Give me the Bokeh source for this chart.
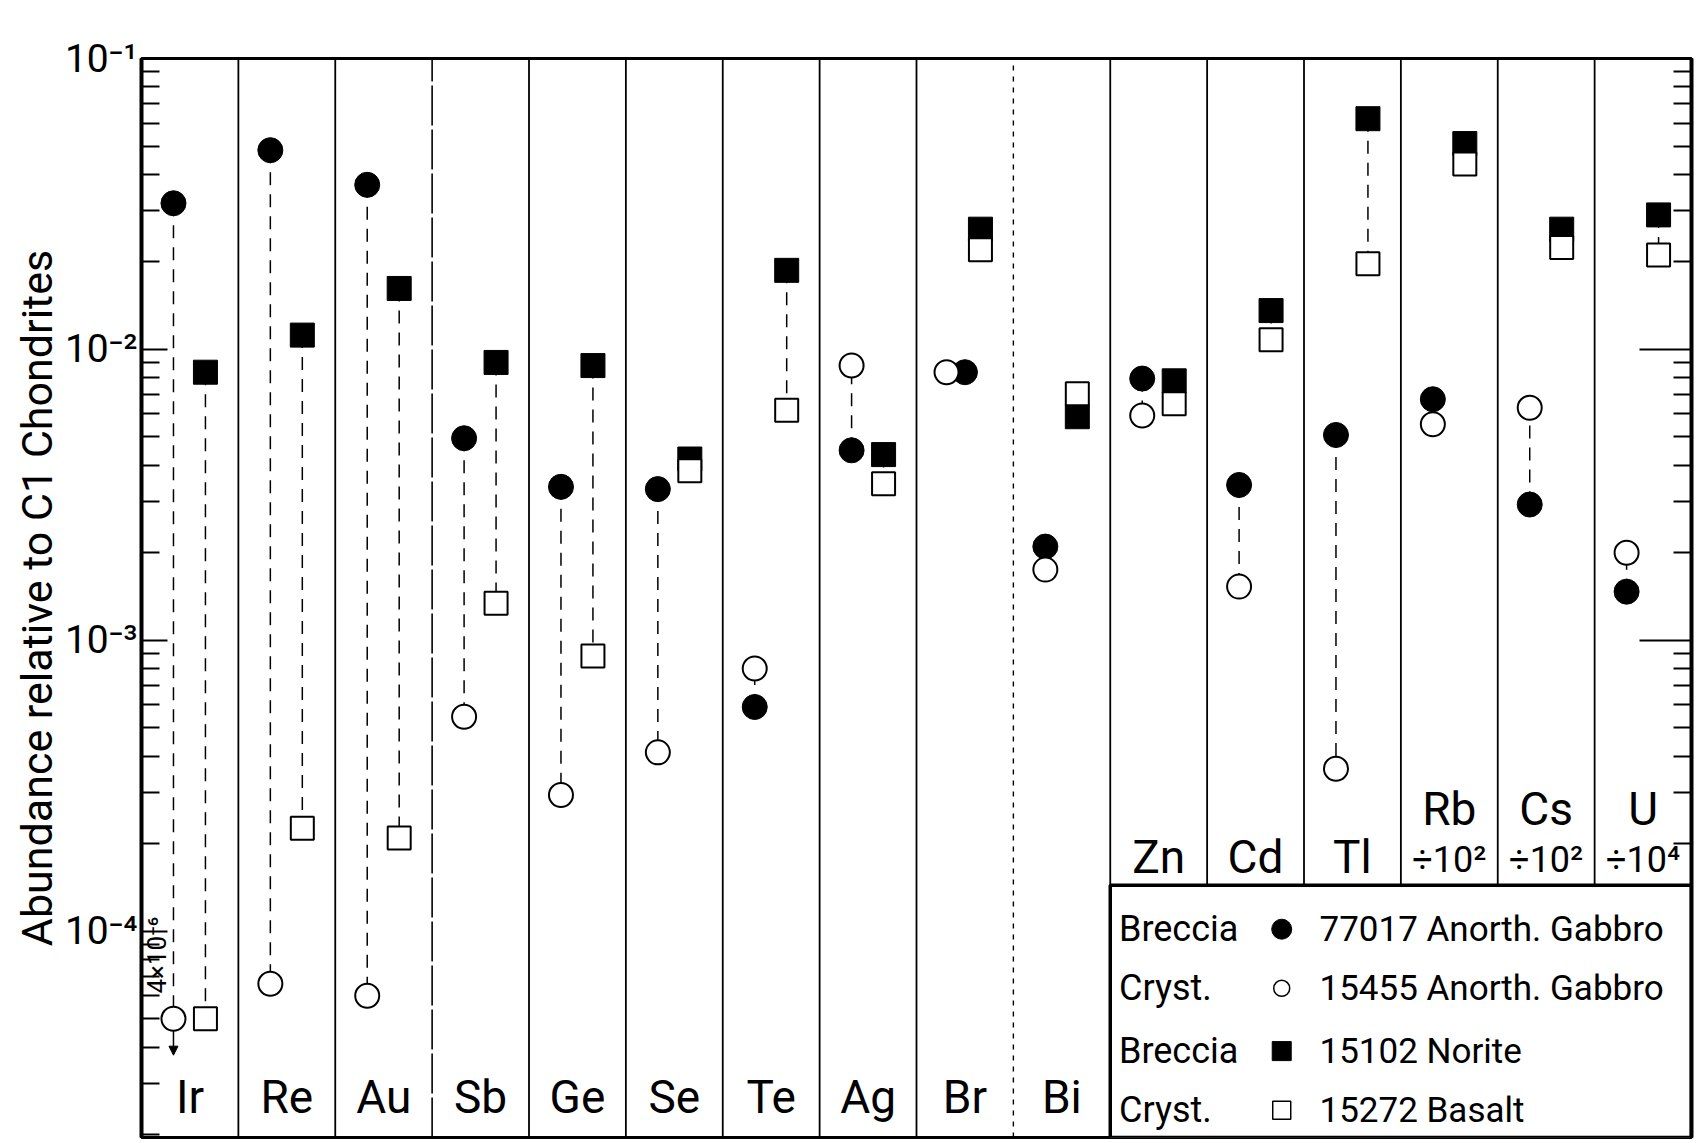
import math
from bokeh.plotting import figure
from bokeh.models import Range1d, LogAxis, FixedTicker, Label, Arrow, NormalHead, CustomJSTickFormatter
from bokeh.core.properties import value
from bokeh.embed import file_html
from bokeh.resources import INLINE

# ---------------- data ----------------
elements = ["Ir", "Re", "Au", "Sb", "Ge", "Se", "Te", "Ag", "Br", "Bi",
            "Zn", "Cd", "Tl", "Rb", "Cs", "U"]
scale_notes = ["", "", "", "", "", "", "", "", "", "",
               "", "", "", "÷10²", "÷10²", "÷10⁴"]
# Breccia 77017 Anorth. Gabbro (filled circles)
breccia_77017 = [0.0318, 0.0484, 0.0368, 0.00495, 0.00337, 0.00331, 0.00059, 0.0045,
                 0.00835, 0.0021, 0.00794, 0.00342, 0.00508, 0.00674, 0.00293, 0.00147]
# Cryst. 15455 Anorth. Gabbro (open circles)
cryst_15455 = [5.0e-5, 6.6e-5, 6.0e-5, 5.46e-4, 2.94e-4, 4.12e-4, 8.0e-4, 8.8e-3,
               8.35e-3, 1.75e-3, 5.93e-3, 1.53e-3, 3.62e-4, 5.53e-3, 6.3e-3, 2.0e-3]
# Breccia 15102 Norite (filled squares)
breccia_15102 = [0.00835, 0.0112, 0.0162, 0.00902, 0.0088, 0.0042, 0.0187, 0.00435,
                 0.0259, 0.00587, 0.0078, 0.0136, 0.0621, 0.051, 0.0259, 0.029]
# Cryst. 15272 Basalt (open squares)
cryst_15272 = [5.0e-5, 2.26e-4, 2.09e-4, 1.34e-3, 8.83e-4, 3.83e-3, 6.18e-3, 3.45e-3,
               0.022, 0.00704, 0.00651, 0.0108, 0.0197, 0.0434, 0.0224, 0.0211]

legend_kinds = ["Breccia", "Cryst.", "Breccia", "Cryst."]
legend_names = ["77017 Anorth. Gabbro", "15455 Anorth. Gabbro", "15102 Norite", "15272 Basalt"]

major_ticks = [1e-4, 1e-3, 1e-2, 1e-1]
tick_labels = ["10⁻⁴", "10⁻³", "10⁻²", "10⁻¹"]
minor_ticks = [m * 10.0 ** e for e in range(-5, -1) for m in range(2, 10)]

ir_limit_text = "4×10⁻⁶"
y_title = "Abundance relative to C1 Chondrites"

# ---------------- styling / layout ----------------
FONT = "Roboto"
YMIN, YMAX = 10 ** -4.709, 0.1
N = len(elements)
LEG_TOP = 10 ** -3.842


def ly(l):
    return 10 ** l


p = figure(width=1703, height=1143, x_range=Range1d(0, N), y_range=Range1d(YMIN, YMAX),
           y_axis_type="log", x_axis_location=None, output_backend="svg",
           toolbar_location=None, min_border_left=141, min_border_right=12,
           min_border_top=58, min_border_bottom=6)
p.grid.visible = False
p.outline_line_color = "black"
p.outline_line_width = 3
p.background_fill_color = "white"
p.border_fill_color = "white"

yax = p.yaxis[0]
yax.ticker = FixedTicker(ticks=major_ticks, minor_ticks=minor_ticks)
yax.major_label_overrides = dict(zip(major_ticks, tick_labels))
yax.major_tick_in = 26
yax.major_tick_out = 0
yax.minor_tick_in = 18
yax.minor_tick_out = 0
yax.axis_line_width = 4
yax.major_tick_line_width = 2
yax.minor_tick_line_width = 2
yax.major_label_standoff = 4
yax.major_label_text_font = FONT
yax.major_label_text_font_size = "39px"
yax.major_label_text_color = "black"
yax.axis_label = y_title
yax.axis_label_text_font = FONT
yax.axis_label_text_font_size = "43px"
yax.axis_label_text_font_style = "normal"
yax.axis_label_text_color = "black"
yax.axis_label_standoff = 0

# right-hand ticks stop where the legend box begins
r_major = [t for t in major_ticks if t > LEG_TOP]
r_minor = [t for t in minor_ticks if t > LEG_TOP]
rax = LogAxis(ticker=FixedTicker(ticks=r_major, minor_ticks=r_minor),
              formatter=CustomJSTickFormatter(code="return ''"),
              major_tick_in=52, major_tick_out=0, minor_tick_in=18, minor_tick_out=0,
              axis_line_width=4, major_tick_line_width=2, minor_tick_line_width=2,
              major_label_standoff=0)
p.add_layout(rax, "right")

# column separators
full_b = [b for b in range(1, 11) if b not in (3, 9)]
p.segment(x0=full_b, x1=full_b, y0=[YMIN] * len(full_b), y1=[YMAX] * len(full_b),
          line_color="black", line_width=1.8)
p.segment(x0=[3], x1=[3], y0=[YMIN], y1=[YMAX], line_color="black", line_width=1.6,
          line_dash="40 4")
p.segment(x0=[9], x1=[9], y0=[YMIN], y1=[YMAX], line_color="black", line_width=1.4,
          line_dash="5 6")
part_b = list(range(11, N))
p.segment(x0=part_b, x1=part_b, y0=[LEG_TOP] * len(part_b), y1=[YMAX] * len(part_b),
          line_color="black", line_width=1.8)

# legend box
p.quad(left=[10], right=[N], bottom=[YMIN], top=[LEG_TOP], fill_color="white",
       line_color="black", line_width=3.5)

# x positions
cx = [i + 0.33 for i in range(N)]
sx = [i + 0.66 for i in range(N)]
cx_open = list(cx)
cx_fill = list(cx)
br = elements.index("Br")
cx_open[br] = br + 0.31
cx_fill[br] = br + 0.50

# dashed connectors
p.segment(x0=cx_fill, y0=breccia_77017, x1=cx_open, y1=cryst_15455,
          line_color="black", line_width=1.5, line_dash="13 9")
p.segment(x0=sx, y0=breccia_15102, x1=sx, y1=cryst_15272,
          line_color="black", line_width=1.5, line_dash="13 9")

# Ir upper-limit arrow
ir = elements.index("Ir")
p.add_layout(Arrow(x_start=cx_open[ir], y_start=cryst_15455[ir] * 10 ** -0.04,
                   x_end=cx_open[ir], y_end=cryst_15455[ir] * 10 ** -0.125,
                   line_width=1.5, end=NormalHead(size=9, fill_color="black", line_color="black")))

# markers
p.scatter(cx_fill, breccia_77017, marker="circle", size=25, fill_color="black", line_color="black")
p.scatter(sx, breccia_15102, marker="square", size=24, fill_color="black", line_color="black")
p.scatter(cx_open, cryst_15455, marker="circle", size=24, fill_color="white",
          line_color="black", line_width=2)
p.scatter(sx, cryst_15272, marker="square", size=23, fill_color="white",
          line_color="black", line_width=2)

# element labels
centers = [i + 0.5 for i in range(N)]
lab_y = [ly(-4.570) if i < 10 else (ly(-3.746) if scale_notes[i] == "" else ly(-3.581))
         for i in range(N)]
p.text(x=centers, y=lab_y, text=elements, text_align="center", text_baseline="middle",
       text_font=value(FONT), text_font_size="46px", text_color="black")
note_idx = [i for i in range(N) if scale_notes[i]]
p.text(x=[centers[i] for i in note_idx], y=[ly(-3.756)] * len(note_idx),
       text=[scale_notes[i] for i in note_idx], text_align="center",
       text_baseline="middle", text_font=value(FONT), text_font_size="36px",
       text_color="black")

# 4x10^-6 annotation
p.add_layout(Label(x=0.165, y=ly(-4.082), text=ir_limit_text, angle=math.pi / 2,
                   text_align="center", text_baseline="middle", text_font=FONT,
                   text_font_size="26px", text_color="black"))

# legend contents
leg_y = [ly(-3.993), ly(-4.196), ly(-4.412), ly(-4.615)]
p.text(x=[10.09] * 4, y=leg_y, text=legend_kinds, text_align="left",
       text_baseline="middle", text_font=value(FONT), text_font_size="36px",
       text_color="black")
p.text(x=[12.16] * 4, y=leg_y, text=legend_names, text_align="left",
       text_baseline="middle", text_font=value(FONT), text_font_size="35px",
       text_color="black")
p.scatter([11.77], [leg_y[0]], marker="circle", size=20, fill_color="black", line_color="black")
p.scatter([11.77], [leg_y[1]], marker="circle", size=16, fill_color="white", line_color="black",
          line_width=1.5)
p.scatter([11.77], [leg_y[2]], marker="square", size=19, fill_color="black", line_color="black")
p.scatter([11.77], [leg_y[3]], marker="square", size=18, fill_color="white", line_color="black",
          line_width=1.5)

open("out.html", "w").write(file_html(p, INLINE))
